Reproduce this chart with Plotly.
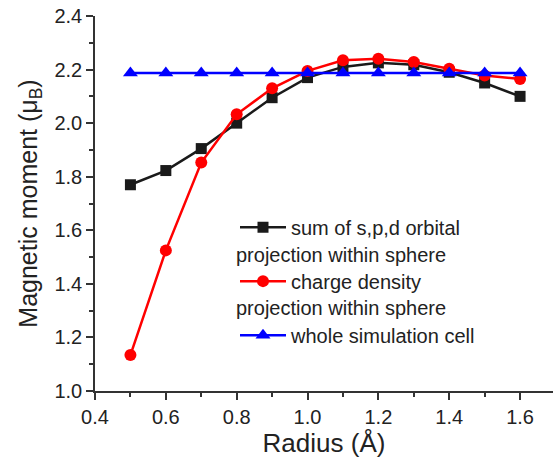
import plotly.graph_objects as go

radius = [0.5, 0.6, 0.7, 0.8, 0.9, 1.0, 1.1, 1.2, 1.3, 1.4, 1.5, 1.6]
spd_sum = [1.770, 1.823, 1.905, 2.000, 2.095, 2.170, 2.210, 2.225, 2.218, 2.190, 2.150, 2.100]
charge_density = [1.134, 1.525, 1.853, 2.033, 2.130, 2.195, 2.235, 2.240, 2.228, 2.203, 2.178, 2.165]
whole_cell = [2.187] * 12

names = ["sum of s,p,d orbital", "charge density", "whole simulation cell"]
second_lines = ["projection within sphere", "projection within sphere"]

FONT = "Liberation Sans, Arial, sans-serif"
TXT = "#222222"

fig = go.Figure()
fig.add_trace(go.Scatter(x=radius, y=spd_sum, name=names[0], mode="lines+markers",
                         line=dict(color="#1a1a1a", width=2.5),
                         marker=dict(symbol="square", size=11, color="#1a1a1a"),
                         legendgroup="a"))
fig.add_trace(go.Scatter(x=radius, y=charge_density, name=names[1], mode="lines+markers",
                         line=dict(color="#ff0000", width=2.5),
                         marker=dict(symbol="circle", size=12, color="#ff0000"),
                         legendgroup="b"))
fig.add_trace(go.Scatter(x=radius, y=whole_cell, name=names[2], mode="lines+markers",
                         line=dict(color="#0000ff", width=2.5),
                         marker=dict(symbol="triangle-up", size=13, color="#0000ff"),
                         legendgroup="c"))

axis_common = dict(showline=True, linecolor="#333333", linewidth=1.5, ticks="outside",
                   ticklen=7, tickwidth=1.5, tickcolor="#333333", showgrid=False,
                   zeroline=False, mirror=False,
                   tickfont=dict(family=FONT, size=20, color=TXT))
minor = dict(dtick=0.1, ticks="outside", ticklen=4, tickwidth=1.5, tickcolor="#333333")

fig.update_xaxes(range=[0.4, 1.693], dtick=0.2, tick0=0.4, tickformat=".1f", minor=minor,
                 title=dict(text="Radius (Å)", font=dict(family=FONT, size=26, color=TXT), standoff=2),
                 **axis_common)
fig.update_yaxes(range=[1.0, 2.4], dtick=0.2, tick0=1.0, tickformat=".1f", minor=minor,
                 title=dict(text="Magnetic moment (μ<sub>B</sub>)", font=dict(family=FONT, size=25, color=TXT), standoff=10),
                 **axis_common)

fig.update_layout(
    width=553, height=459,
    margin=dict(l=95, r=0, t=16, b=68),
    plot_bgcolor="white", paper_bgcolor="white",
    showlegend=True,
    legend=dict(x=(235 - 95) / 458, y=0.489, xanchor="left", yanchor="top",
                font=dict(family=FONT, size=20, color=TXT),
                bgcolor="rgba(0,0,0,0)", traceorder="grouped", tracegroupgap=25,
                itemwidth=46),
)

ann_y = [0.364, 0.221]
for txt, yy in zip(second_lines, ann_y):
    fig.add_annotation(text=txt, xref="paper", yref="paper", x=(236 - 95) / 458, y=yy,
                       xanchor="left", yanchor="middle", showarrow=False, xshift=-2,
                       font=dict(family=FONT, size=20, color=TXT))

fig.write_html("out.html", config={"displayModeBar": False},
               post_script="document.body.style.margin='0';document.body.style.padding='0';")
